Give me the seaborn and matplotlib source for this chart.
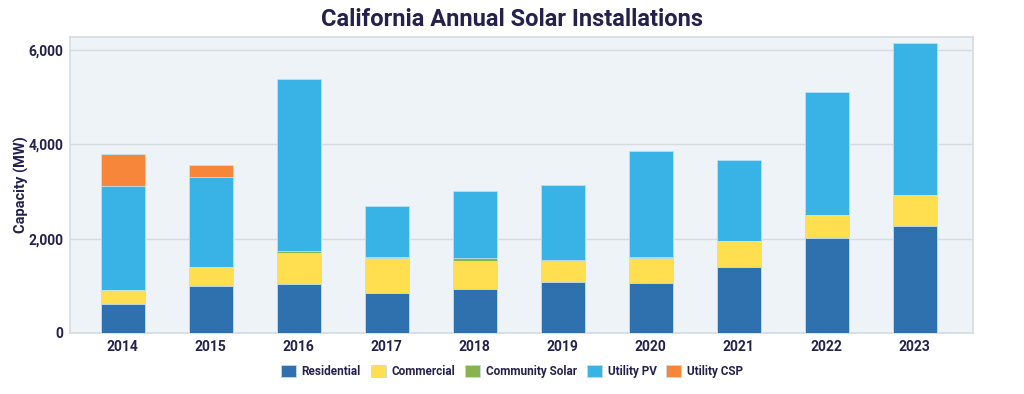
import matplotlib
matplotlib.use("Agg")
import matplotlib.pyplot as plt
import matplotlib.ticker as mticker
from matplotlib.patches import Patch
import numpy as np
import pandas as pd
import seaborn as sns

years = ["2014", "2015", "2016", "2017", "2018", "2019", "2020", "2021", "2022", "2023"]
residential = [610, 1000, 1045, 850, 935, 1070, 1060, 1400, 2010, 2265]
commercial = [295, 395, 655, 745, 590, 465, 535, 550, 485, 655]
community_solar = [0, 0, 30, 20, 55, 10, 10, 5, 5, 5]
utility_pv = [2210, 1910, 3655, 1070, 1430, 1585, 2255, 1715, 2605, 3230]
utility_csp = [670, 255, 0, 0, 0, 0, 0, 0, 0, 0]

series_names = ["Residential", "Commercial", "Community Solar", "Utility PV", "Utility CSP"]
series_values = [residential, commercial, community_solar, utility_pv, utility_csp]
series_colors = ["#2F70AE", "#FFDF4F", "#89B34F", "#39B2E5", "#F7853A"]

sns.set_theme(style="white")
plt.rcParams["font.family"] = ["Roboto", "DejaVu Sans"]

navy = "#24214E"
grid_c = "#D6DBE1"

fig = plt.figure(figsize=(10.24, 3.94), dpi=100)
ax = fig.add_axes([0.0684, 0.155, 0.8816, 0.751])
ax.set_facecolor("#EEF3F7")

df = pd.DataFrame({"year": years})
cum = np.zeros(len(years))
cums = []
for vals in series_values:
    cum = cum + np.array(vals, dtype=float)
    cums.append(cum.copy())

# draw tallest cumulative first so lower segments overlay
for name, color, c in reversed(list(zip(series_names, series_colors, cums))):
    d = df.copy()
    d["value"] = c
    sns.barplot(data=d, x="year", y="value", color=color, width=0.5,
                edgecolor="#BFE3F5", linewidth=0.6, ax=ax, zorder=3,
                saturation=1)

ax.set_xlim(-0.6, 9.66)
ax.set_ylim(0, 6275)
ax.yaxis.set_major_locator(mticker.FixedLocator([0, 2000, 4000, 6000]))
ax.yaxis.set_major_formatter(mticker.FuncFormatter(lambda v, p: f"{int(v):,}"))
ax.grid(axis="y", color=grid_c, linewidth=1.0, zorder=0)
ax.set_axisbelow(True)
for s in ax.spines.values():
    s.set_color(grid_c)
    s.set_linewidth(1.2)

ax.set_xlabel("")
ax.set_ylabel("Capacity (MW)", fontsize=10.5, fontweight="bold", color=navy, labelpad=-1)
ax.tick_params(axis="both", length=0, labelsize=10, labelcolor=navy, pad=5)
for lbl in ax.get_xticklabels() + ax.get_yticklabels():
    lbl.set_fontweight("bold")

fig.suptitle("California Annual Solar Installations", fontsize=17, fontweight="bold",
             color=navy, y=0.98, va="top")

handles = [Patch(facecolor=c, edgecolor="#C8D8E8", linewidth=0.6) for c in series_colors]
leg = fig.legend(handles, series_names, loc="center", bbox_to_anchor=(0.5, 0.058), ncol=5,
                 frameon=False, fontsize=8.5, handlelength=1.25, handleheight=1.25,
                 handletextpad=0.5, columnspacing=0.85)
for t in leg.get_texts():
    t.set_fontweight("bold")
    t.set_color(navy)

fig.savefig("out.png", dpi=100, facecolor="white")
